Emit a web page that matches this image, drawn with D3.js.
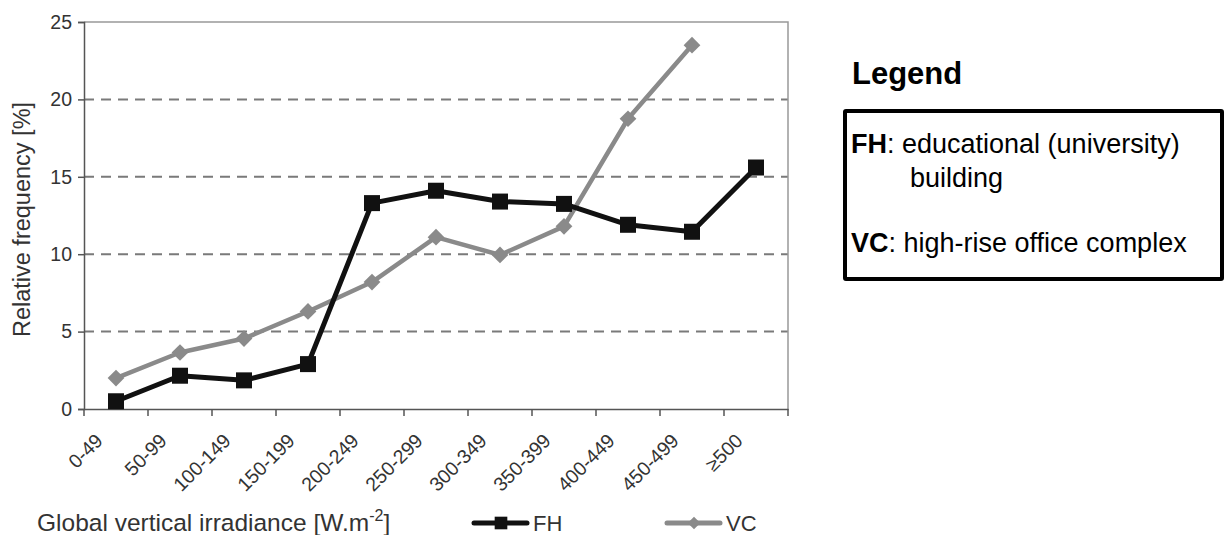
<!DOCTYPE html>
<html><head><meta charset="utf-8">
<script src="https://cdn.jsdelivr.net/npm/d3@7"></script>
<style>body{margin:0;background:#fff;} svg{display:block;font-family:"Liberation Sans",Arial,sans-serif;}</style>
</head><body>
<svg id="c" width="1225" height="535"></svg>
<script>
const categories = ["0-49","50-99","100-149","150-199","200-249","250-299","300-349","350-399","400-449","450-499","≥500"];
const fhValues = [0.5,2.15,1.85,2.9,13.3,14.1,13.4,13.25,11.9,11.45,15.6];
const vcValues = [2.0,3.65,4.55,6.3,8.2,11.1,9.95,11.8,18.75,23.5,null];
const yTicks = [0,5,10,15,20,25];
const seriesNames = ["FH","VC"];

const svg = d3.select("#c");
const L = 84, R = 788, T = 22, B = 409;
const x = d3.scaleBand().domain(categories).range([L, R]).padding(0);
const y = d3.scaleLinear().domain([0,25]).range([B, T]);
const cx = c => x(c) + x.bandwidth()/2;

// grid
svg.append("g").selectAll("line").data(yTicks.filter(d=>d>0 && d<25)).join("line")
  .attr("x1", L).attr("x2", R).attr("y1", d=>y(d)).attr("y2", d=>y(d))
  .attr("stroke", "#7a7a7a").attr("stroke-width", 2).attr("stroke-dasharray", "10,7");
// frame top/right
svg.append("path").attr("d", `M${L},${T}H${R}V${B}`).attr("fill","none").attr("stroke","#999").attr("stroke-width",1.5);

// y axis
const yAxis = svg.append("g").attr("transform", `translate(${L},0)`)
  .call(d3.axisLeft(y).tickValues(yTicks).tickSize(6).tickPadding(6));
yAxis.select(".domain").attr("stroke","#555").attr("stroke-width",1.5);
yAxis.selectAll(".tick line").attr("stroke","#555").attr("stroke-width",1.5);
yAxis.selectAll("text").attr("font-size",19.5).attr("fill","#333");

// x axis
const xAxis = svg.append("g").attr("transform", `translate(0,${B})`)
  .call(d3.axisBottom(x).tickSize(0).tickFormat(""));
xAxis.select(".domain").attr("stroke","#555").attr("stroke-width",1.5);
const bounds = categories.map(c=>x(c)).concat([R]);
svg.append("g").selectAll("line").data(bounds).join("line")
  .attr("x1",d=>d).attr("x2",d=>d).attr("y1",B).attr("y2",B+7)
  .attr("stroke","#555").attr("stroke-width",1.5);
svg.append("g").selectAll("text").data(categories).join("text")
  .attr("transform", d=>`translate(${cx(d)-12},${B+33}) rotate(-45)`)
  .attr("text-anchor","end").attr("font-size",19.5).attr("fill","#333").text(d=>d);

// lines
const lineGen = d3.line().defined(d=>d.v!=null).x(d=>cx(d.c)).y(d=>y(d.v));
const fhData = categories.map((c,i)=>({c, v: fhValues[i]}));
const vcData = categories.map((c,i)=>({c, v: vcValues[i]}));

svg.append("path").datum(vcData).attr("d", lineGen).attr("fill","none").attr("stroke","#8a8a8a").attr("stroke-width",4.5).attr("stroke-linejoin","round");
svg.append("g").selectAll("path").data(vcData.filter(d=>d.v!=null)).join("path")
  .attr("d", d3.symbol(d3.symbolSquare, 140)())
  .attr("transform", d=>`translate(${cx(d.c)},${y(d.v)}) rotate(45)`)
  .attr("fill","#8a8a8a");

svg.append("path").datum(fhData).attr("d", lineGen).attr("fill","none").attr("stroke","#111").attr("stroke-width",5).attr("stroke-linejoin","round");
svg.append("g").selectAll("rect").data(fhData).join("rect")
  .attr("x", d=>cx(d.c)-8).attr("y", d=>y(d.v)-8)
  .attr("width",16).attr("height",16).attr("fill","#111");

// axis titles
svg.append("text").attr("transform", `translate(30,${(T+B)/2+4}) rotate(-90)`)
  .attr("text-anchor","middle").attr("font-size",23.5).attr("fill","#333").text("Relative frequency [%]");
const xt = svg.append("text").attr("x",37).attr("y",531).attr("font-size",24.5).attr("fill","#333");
xt.append("tspan").text("Global vertical irradiance [W.m");
xt.append("tspan").attr("dy",-10).attr("font-size",16).text("-2");
xt.append("tspan").attr("dy",10).text("]");

// bottom legend
const bl = [{name:seriesNames[0], x1:474, color:"#111", shape:"sq"},{name:seriesNames[1], x1:667, color:"#8a8a8a", shape:"di"}];
const lg = svg.append("g").selectAll("g").data(bl).join("g");
lg.append("line").attr("x1",d=>d.x1).attr("x2",d=>d.x1+53).attr("y1",523).attr("y2",523)
  .attr("stroke",d=>d.color).attr("stroke-width",5).attr("stroke-linecap","round");
lg.append("path").attr("d", d=>d.shape==="sq" ? d3.symbol(d3.symbolSquare,160)() : d3.symbol(d3.symbolSquare,80)())
  .attr("transform", d=>`translate(${d.x1+27},523) rotate(${d.shape==="sq"?0:45})`).attr("fill",d=>d.color);
lg.append("text").attr("x",d=>d.x1+59).attr("y",531).attr("font-size",22).attr("fill","#333").text(d=>d.name);

// right legend
svg.append("text").attr("x",852).attr("y",84).attr("font-size",31).attr("font-weight","bold").attr("fill","#000").text("Legend");
svg.append("rect").attr("x",845).attr("y",111).attr("width",377).attr("height",168)
  .attr("fill","none").attr("stroke","#000").attr("stroke-width",4).attr("rx",1);
const t1 = svg.append("text").attr("x",851).attr("y",153).attr("font-size",27).attr("fill","#000");
t1.append("tspan").attr("font-weight","bold").text("FH");
t1.append("tspan").text(": educational (university)");
svg.append("text").attr("x",910).attr("y",187).attr("font-size",27).attr("fill","#000").text("building");
const t2 = svg.append("text").attr("x",851).attr("y",252).attr("font-size",27).attr("fill","#000");
t2.append("tspan").attr("font-weight","bold").text("VC");
t2.append("tspan").text(": high-rise office complex");
</script>
</body></html>
